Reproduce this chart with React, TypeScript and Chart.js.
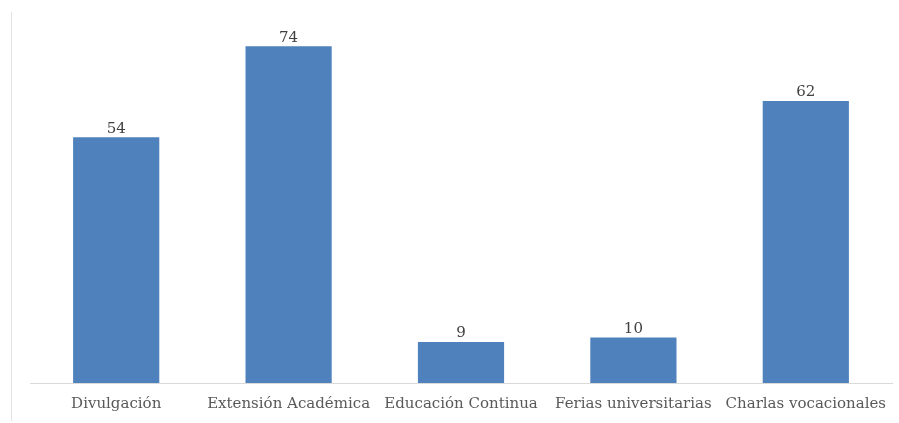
import React, { useEffect, useRef } from "react";
import { Chart, registerables } from "chart.js";

Chart.register(...registerables);

const categories = ["Divulgación", "Extensión Académica", "Educación Continua", "Ferias universitarias", "Charlas vocacionales"];
const values = [54, 74, 9, 10, 62];

const FONT = "'DejaVu Serif', serif";

const decorPlugin = {
  id: "decor",
  beforeDraw(chart: any) {
    const ctx = chart.ctx;
    ctx.save();
    ctx.strokeStyle = "#e3e3e3";
    ctx.lineWidth = 1;
    ctx.beginPath();
    ctx.moveTo(11.5, 12);
    ctx.lineTo(11.5, 421);
    ctx.stroke();
    ctx.restore();
  },
  afterDatasetsDraw(chart: any) {
    const ctx = chart.ctx;
    const meta = chart.getDatasetMeta(0);
    ctx.save();
    ctx.fillStyle = "#404040";
    ctx.font = "15px " + FONT;
    ctx.textAlign = "center";
    ctx.textBaseline = "bottom";
    meta.data.forEach((bar: any, i: number) => {
      ctx.fillText(String(chart.data.datasets[0].data[i]), bar.x, bar.y - 1);
    });
    ctx.restore();
  },
};

export default function App() {
  const ref = useRef<HTMLCanvasElement>(null);
  useEffect(() => {
    const chart = new Chart(ref.current!, {
      type: "bar",
      data: {
        labels: categories,
        datasets: [
          {
            data: values,
            backgroundColor: "#4f81bd",
            barPercentage: 0.5,
            categoryPercentage: 1,
          },
        ],
      },
      options: {
        animation: false,
        responsive: false,
        maintainAspectRatio: false,
        layout: { padding: { left: 30, right: 7, top: 19, bottom: 11 } },
        plugins: { legend: { display: false }, tooltip: { enabled: false } },
        scales: {
          x: {
            grid: { display: false },
            border: { display: true, color: "#d9d9d9", width: 1 },
            ticks: { color: "#595959", font: { family: FONT, size: 15 }, padding: 4, maxRotation: 0, autoSkip: false },
            afterFit(scale: any) {
              scale.height = 29;
            },
          },
          y: {
            display: false,
            min: 0,
            max: 80,
          },
        },
      },
      plugins: [decorPlugin],
    });
    return () => chart.destroy();
  }, []);
  return (
    <div style={{ position: "absolute", left: 0, top: 0, width: 899, height: 423, background: "#fff" }}>
      <canvas ref={ref} width={899} height={423} style={{ display: "block" }} />
    </div>
  );
}
